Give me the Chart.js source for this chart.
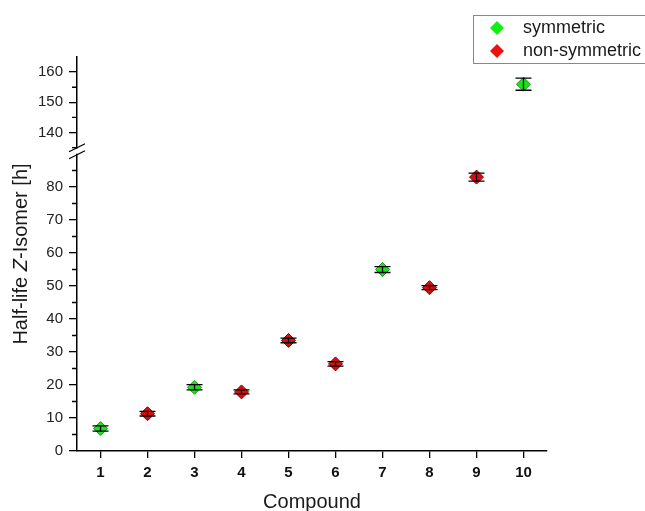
<!DOCTYPE html>
<html>
<head>
<meta charset="utf-8">
<script src="https://cdn.jsdelivr.net/npm/chart.js@4/dist/chart.umd.min.js"></script>
<style>
  html, body { margin: 0; padding: 0; background: #fff; }
  #wrap { width: 645px; height: 511px; position: relative; }
</style>
</head>
<body>
<div id="wrap"><canvas id="chart"></canvas></div>
<script>
// data
const compounds = [1, 2, 3, 4, 5, 6, 7, 8, 9, 10];
const symmetric = [6.8, null, 19.3, null, null, null, 55.0, null, null, 156.0];
const symmetricErr = [0.8, null, 0.8, null, null, null, 0.9, null, null, 2.0];
const nonSymmetric = [null, 11.3, null, 17.9, 33.5, 26.4, null, 49.5, 83.0, null];
const nonSymmetricErr = [null, 0.7, null, 0.6, 0.7, 0.7, null, 0.6, 1.2, null];
const lowerTicks = [0, 10, 20, 30, 40, 50, 60, 70, 80];
const upperTicks = [140, 150, 160];
const breakAt = 100;

const greenFill = '#22dd22', greenEdge = '#189a18';
const redFill = '#d01010', redEdge = '#8a0000';
const font = '"Liberation Sans", Arial, sans-serif';

function points(vals, errs, upper) {
    return compounds
        .map((c, i) => ({ x: c, y: vals[i], err: errs[i] }))
        .filter(p => p.y != null && (p.y > breakAt) === upper);
}

function series(label, vals, errs, fill, edge, upper) {
    return {
        label: label,
        data: points(vals, errs, upper),
        yAxisID: upper ? 'yTop' : 'y',
        backgroundColor: fill,
        borderColor: edge,
        borderWidth: 1,
        pointStyle: 'rectRot',
        pointRadius: 7,
        pointHoverRadius: 7,
        showLine: false
    };
}

const datasets = [
    series('symmetric', symmetric, symmetricErr, greenFill, greenEdge, false),
    series('non-symmetric', nonSymmetric, nonSymmetricErr, redFill, redEdge, false),
    series('symmetric', symmetric, symmetricErr, greenFill, greenEdge, true)
];

const errorBars = {
    id: 'errorBars',
    afterDatasetsDraw(chart) {
        const ctx = chart.ctx;
        ctx.save();
        ctx.strokeStyle = '#000';
        ctx.lineWidth = 1.3;
        chart.data.datasets.forEach((ds, di) => {
            const meta = chart.getDatasetMeta(di);
            const ys = chart.scales[ds.yAxisID];
            meta.data.forEach((el, i) => {
                const p = ds.data[i];
                const top = ys.getPixelForValue(p.y + p.err);
                const bot = ys.getPixelForValue(p.y - p.err);
                ctx.beginPath();
                ctx.moveTo(el.x, top); ctx.lineTo(el.x, bot);
                ctx.moveTo(el.x - 8, top); ctx.lineTo(el.x + 8, top);
                ctx.moveTo(el.x - 8, bot); ctx.lineTo(el.x + 8, bot);
                ctx.stroke();
            });
        });
        ctx.restore();
    }
};

const axisExtras = {
    id: 'axisExtras',
    afterDraw(chart) {
        const ctx = chart.ctx;
        const lo = chart.scales.y, up = chart.scales.yTop;
        const ax = lo.right;
        ctx.save();
        ctx.strokeStyle = '#000';
        ctx.lineWidth = 1.3;
        // minor ticks
        ctx.beginPath();
        [5, 15, 25, 35, 45, 55, 65, 75, 85].forEach(v => {
            const y = lo.getPixelForValue(v);
            ctx.moveTo(ax - 5, y); ctx.lineTo(ax, y);
        });
        [135, 145, 155].forEach(v => {
            const y = up.getPixelForValue(v);
            ctx.moveTo(ax - 5, y); ctx.lineTo(ax, y);
        });
        ctx.stroke();
        // axis break
        const by = up.bottom;
        ctx.fillStyle = '#fff';
        ctx.fillRect(ax - 3, by - 2, 6, 5);
        ctx.beginPath();
        ctx.moveTo(ax - 8, by + 1); ctx.lineTo(ax + 8, by - 7);
        ctx.moveTo(ax - 8, by + 8); ctx.lineTo(ax + 8, by);
        ctx.stroke();
        // y title centred on the whole axis, with italic Z
        const parts = [['Half-life ', ''], ['Z', 'italic '], ['-Isomer [h]', '']];
        ctx.fillStyle = '#1a1a1a';
        ctx.textBaseline = 'middle';
        ctx.textAlign = 'left';
        let total = 0;
        parts.forEach(p => { ctx.font = p[1] + '20px ' + font; total += ctx.measureText(p[0]).width; });
        ctx.translate(21, (up.top + lo.bottom) / 2);
        ctx.rotate(-Math.PI / 2);
        let tx = -total / 2;
        parts.forEach(p => {
            ctx.font = p[1] + '20px ' + font;
            ctx.fillText(p[0], tx, 0);
            tx += ctx.measureText(p[0]).width;
        });
        ctx.restore();

        // legend box
        const lx = 473, ly = 15, lw = 180, lh = 48;
        ctx.save();
        ctx.strokeStyle = '#888';
        ctx.lineWidth = 1;
        ctx.strokeRect(lx + 0.5, ly + 0.5, lw, lh);
        ctx.font = '18px ' + font;
        ctx.textBaseline = 'middle';
        const items = [chart.data.datasets[0], chart.data.datasets[1]];
        const legendFill = ['#11ee11', '#ee1111'];
        items.forEach((ds, i) => {
            const cy = ly + 13 + i * 23;
            ctx.fillStyle = legendFill[i];
            ctx.beginPath();
            ctx.moveTo(497, cy - 7); ctx.lineTo(504, cy); ctx.lineTo(497, cy + 7); ctx.lineTo(490, cy);
            ctx.closePath();
            ctx.fill();
            ctx.fillStyle = '#1a1a1a';
            ctx.fillText(ds.label, 523, cy);
        });
        ctx.restore();
    }
};

new Chart(document.getElementById('chart'), {
    type: 'scatter',
    data: { datasets: datasets },
    plugins: [errorBars, axisExtras],
    options: {
        responsive: true,
        maintainAspectRatio: false,
        animation: false,
        layout: { padding: { top: 57, right: 98, left: 32, bottom: 0 } },
        plugins: { legend: { display: false }, tooltip: { enabled: false } },
        scales: {
            x: {
                type: 'linear',
                min: 0.5,
                max: 10.5,
                afterBuildTicks: s => { s.ticks = compounds.map(v => ({ value: v })); },
                grid: { drawOnChartArea: false, tickLength: 7, color: '#000', lineWidth: 1.3 },
                border: { color: '#000', width: 1.5 },
                ticks: { color: '#111', font: { size: 15, weight: 'bold', family: font }, padding: 6 },
                title: { display: true, text: 'Compound', color: '#1a1a1a', font: { size: 20, family: font }, padding: { top: 2, bottom: -3 } }
            },
            y: {
                type: 'linear',
                position: 'left',
                stack: 'left',
                stackWeight: 298,
                min: 0,
                max: 91,
                afterBuildTicks: s => { s.ticks = lowerTicks.map(v => ({ value: v })); },
                grid: { drawOnChartArea: false, tickLength: 8, color: '#000', lineWidth: 1.3 },
                border: { color: '#000', width: 1.5 },
                ticks: { color: '#222', font: { size: 15, family: font }, padding: 6 }
            },
            yTop: {
                type: 'linear',
                position: 'left',
                stack: 'left',
                stackWeight: 93,
                min: 134,
                max: 165,
                afterBuildTicks: s => { s.ticks = upperTicks.map(v => ({ value: v })); },
                grid: { drawOnChartArea: false, tickLength: 8, color: '#000', lineWidth: 1.3 },
                border: { color: '#000', width: 1.5 },
                ticks: { color: '#222', font: { size: 15, family: font }, padding: 6 }
            }
        }
    }
});
</script>
</body>
</html>
